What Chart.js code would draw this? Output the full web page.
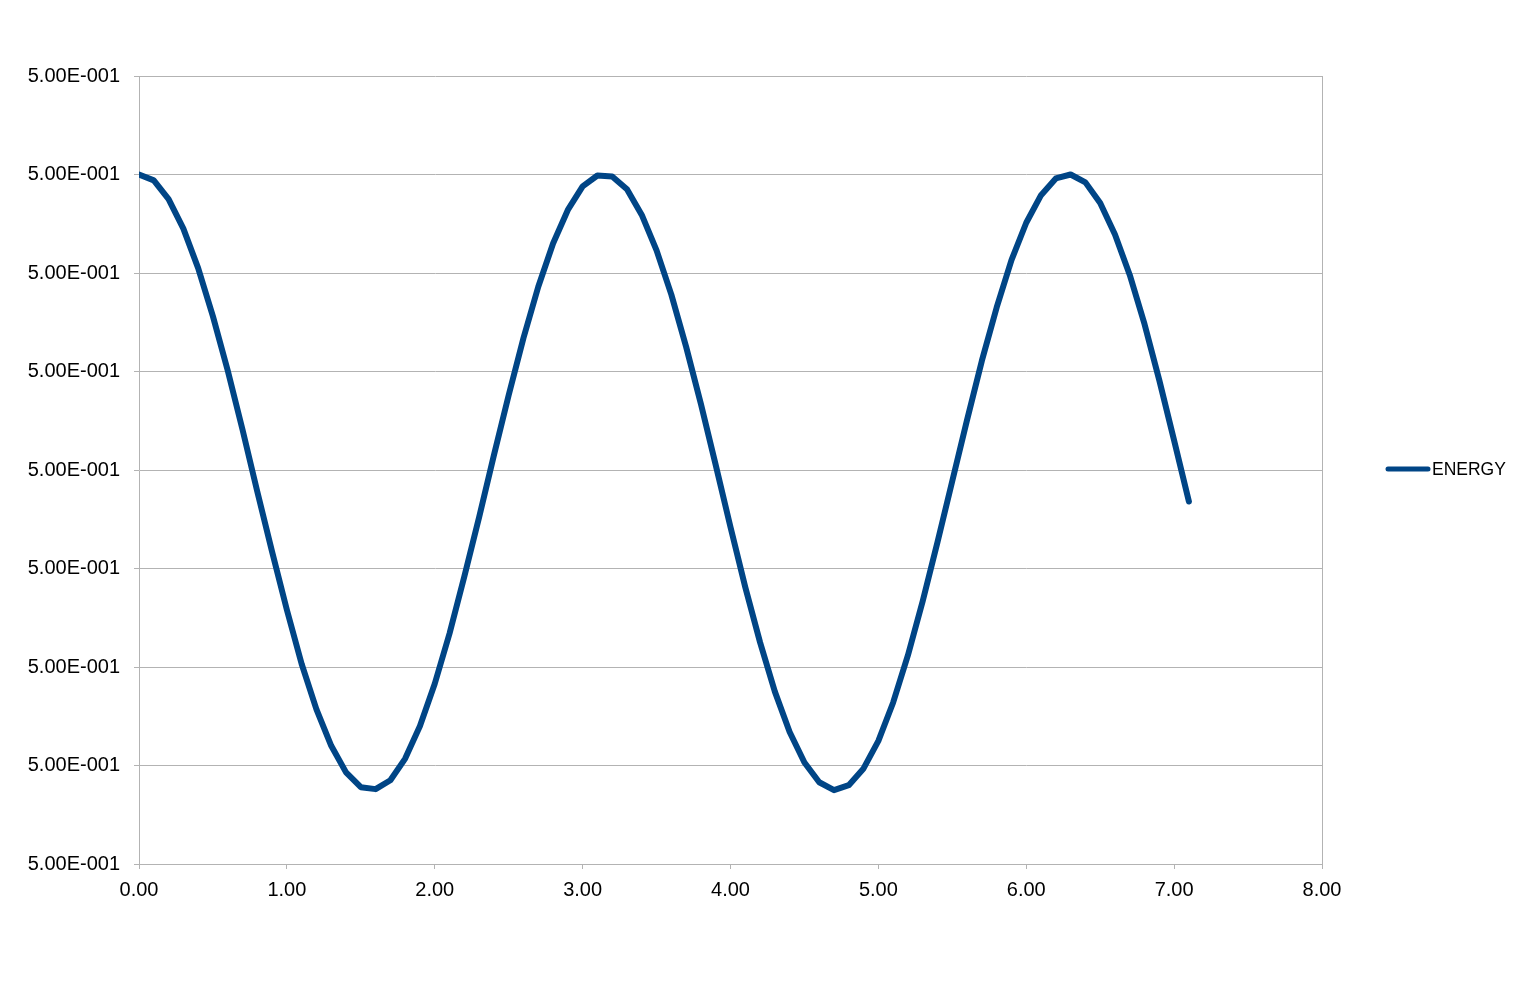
<!DOCTYPE html>
<html lang="en">
<head>
  <meta charset="UTF-8" />
  <title>ENERGY</title>
  <script src="https://cdn.jsdelivr.net/npm/chart.js"></script>
  <style>
    html, body { margin: 0; padding: 0; background: #fff; }
    #wrap { width: 1526px; height: 997px; }
  </style>
</head>
<body>
  <div id="wrap"><canvas id="energyChart"></canvas></div>

  <script>
    // time values (x) and energy readings (y, in gridline units)
    const timeValues = [
      0.0, 0.1, 0.2, 0.3, 0.4, 0.5, 0.6, 0.7, 0.8, 0.9,
      1.0, 1.1, 1.2, 1.3, 1.4, 1.5, 1.6, 1.7, 1.8, 1.9,
      2.0, 2.1, 2.2, 2.3, 2.4, 2.5, 2.6, 2.7, 2.8, 2.9,
      3.0, 3.1, 3.2, 3.3, 3.4, 3.5, 3.6, 3.7, 3.8, 3.9,
      4.0, 4.1, 4.2, 4.3, 4.4, 4.5, 4.6, 4.7, 4.8, 4.9,
      5.0, 5.1, 5.2, 5.3, 5.4, 5.5, 5.6, 5.7, 5.8, 5.9,
      6.0, 6.1, 6.2, 6.3, 6.4, 6.5, 6.6, 6.7, 6.8, 6.9,
      7.0, 7.1
    ];
    const energyValues = [
      7.00, 6.94, 6.75, 6.45, 6.05, 5.56, 5.01, 4.41, 3.78, 3.17,
      2.58, 2.03, 1.57, 1.20, 0.93, 0.78, 0.76, 0.85, 1.07, 1.40,
      1.83, 2.34, 2.92, 3.52, 4.15, 4.76, 5.34, 5.86, 6.30, 6.64,
      6.88, 6.99, 6.98, 6.85, 6.59, 6.23, 5.78, 5.25, 4.67, 4.05,
      3.42, 2.81, 2.25, 1.75, 1.34, 1.03, 0.83, 0.75, 0.80, 0.97,
      1.25, 1.64, 2.12, 2.67, 3.27, 3.89, 4.51, 5.11, 5.65, 6.13,
      6.51, 6.79, 6.96, 7.00, 6.92, 6.71, 6.39, 5.98, 5.48, 4.91,
      4.30, 3.68
    ];
    const yTickLabel = '5.00E-001';
    const seriesName = 'ENERGY';

    const points = timeValues.map((t, i) => ({ x: t, y: energyValues[i] }));
    const gridGray = '#b3b3b3';
    const fontFamily = '"Liberation Sans", Arial, sans-serif';

    // legend drawn to the right of the plot, like the original
    const sideLegend = {
      id: 'sideLegend',
      afterDraw(chart) {
        const ctx = chart.ctx;
        const area = chart.chartArea;
        const ds = chart.data.datasets[0];
        const y = (area.top + area.bottom) / 2 - 1;
        ctx.save();
        ctx.strokeStyle = ds.borderColor;
        ctx.lineWidth = 5;
        ctx.lineCap = 'round';
        ctx.beginPath();
        ctx.moveTo(area.right + 66, y);
        ctx.lineTo(area.right + 106, y);
        ctx.stroke();
        ctx.fillStyle = '#000';
        ctx.font = '17.5px ' + fontFamily;
        ctx.textBaseline = 'middle';
        ctx.fillText(ds.label, area.right + 110, y + 1);
        ctx.restore();
      }
    };

    new Chart(document.getElementById('energyChart'), {
      type: 'line',
      data: {
        datasets: [{
          label: seriesName,
          data: points,
          borderColor: '#004586',
          borderWidth: 6,
          borderCapStyle: 'round',
          borderJoinStyle: 'round',
          pointRadius: 0,
          tension: 0,
          fill: false
        }]
      },
      options: {
        responsive: true,
        maintainAspectRatio: false,
        animation: false,
        layout: { padding: { top: 76, right: 204, left: 0, bottom: 0 } },
        plugins: {
          legend: { display: false },
          tooltip: { enabled: false }
        },
        scales: {
          x: {
            type: 'linear',
            min: 0,
            max: 8,
            ticks: {
              stepSize: 1,
              padding: 9,
              color: '#000',
              font: { family: fontFamily, size: 20 },
              callback: v => v.toFixed(2)
            },
            grid: {
              color: c => (c.tick && c.tick.value === 8 ? gridGray : 'rgba(0,0,0,0)'),
              tickColor: gridGray,
              tickLength: 5,
              lineWidth: 1
            },
            border: { color: gridGray, width: 1 },
            afterFit: s => { s.height = 133; }
          },
          y: {
            min: 0,
            max: 8,
            ticks: {
              stepSize: 1,
              padding: 14,
              color: '#000',
              font: { family: fontFamily, size: 20 },
              callback: () => yTickLabel
            },
            grid: {
              color: gridGray,
              tickColor: gridGray,
              tickLength: 5,
              lineWidth: 1
            },
            border: { color: gridGray, width: 1 },
            afterFit: s => { s.width = 139; }
          }
        }
      },
      plugins: [sideLegend]
    });
  </script>
</body>
</html>
